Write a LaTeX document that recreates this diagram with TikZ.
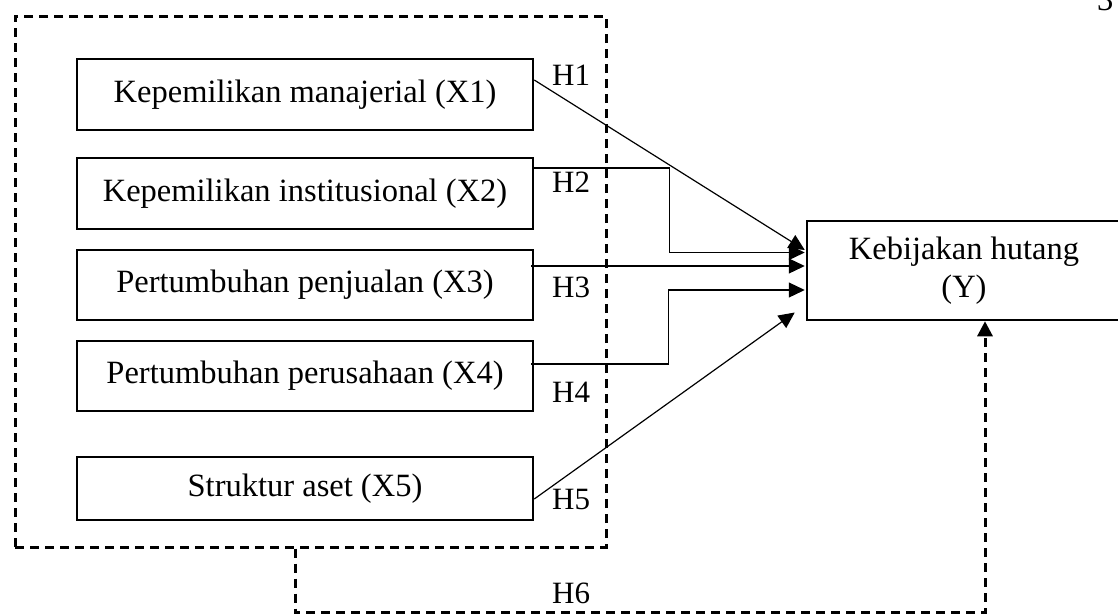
\documentclass[tikz,border=0pt]{standalone}
\usepackage{fontspec}
\setmainfont{Liberation Serif}
\usepackage{tikz}
\usetikzlibrary{arrows.meta,positioning,calc}
\definecolor{Ink}{HTML}{000000}

\tikzset{
  varbox/.style={draw=Ink,line width=2.5pt,minimum width=456pt,inner sep=0pt,font=\fontsize{32.5}{38}\selectfont},
  grpbox/.style={draw=Ink,line width=3pt,dash pattern=on 9pt off 6pt,inner sep=0pt},
  arr/.style={draw=Ink,line width=1.2pt,-{Triangle[length=16pt,width=15pt]}},
  dasharr/.style={draw=Ink,line width=3pt,dash pattern=on 9pt off 6pt,-{Triangle[length=15pt,width=15pt]}},
  hlab/.style={anchor=west,inner sep=0pt,font=\fontsize{31}{36}\selectfont}
}

\begin{document}
\begin{tikzpicture}[x=1pt,y=-1pt]
\path[use as bounding box,fill=white] (0,0) rectangle (1118,614);

% page number, cut at the edge
\node[anchor=base west,inner sep=0pt,font=\fontsize{32.5}{38}\selectfont] (pg) at (1097,10) {3};

% dashed group round the independent variables
\node[grpbox,minimum width=591pt,minimum height=531pt] (grp) at (310.5,281.5) {};

% independent variables
\foreach \i/\y/\h/\txt in {1/94.5/71/Kepemilikan manajerial (X1),2/193.5/71/Kepemilikan institusional (X2),3/285/70/Pertumbuhan penjualan (X3),4/376/70/Pertumbuhan perusahaan (X4),5/488.5/63/Struktur aset (X5)}{
  \node[varbox,minimum height=\h pt] (X\i) at (305,\y) {\txt};
}

% dependent variable
\node[varbox,minimum width=314pt,minimum height=99pt,align=center] (Y) at (964,270.5) {Kebijakan hutang\\(Y)};

% hypotheses
\draw[arr] ($(X1.east)+(0,-14.5)$) -- ($(Y.west)+(-1,-20.5)$);
\draw[arr] ($(X2.east)+(0,-25.5)$) -- ++(135,0) |- ($(Y.west)+(-1,-18)$);
\draw[arr] ($(X3.east)+(-3,-19)$) -- ($(Y.west)+(-1,-4.5)$);
\draw[arr] ($(X4.east)+(-3,-12)$) -- ++(137,0) |- ($(Y.west)+(-1,19.5)$);
\draw[arr] ($(X5.east)+(0,10.5)$) -- ($(Y.west)+(-11,42)$);
\draw[dasharr] ($(grp.south)+(-15.5,0)$) -- ++(0,64) -| ($(Y.south)+(21,0)$);

\foreach \n/\y in {1/75,2/182,3/287,4/392,5/499,6/593}{
  \node[hlab] (h\n) at (552,\y) {H\n};
}
\end{tikzpicture}
\end{document}
